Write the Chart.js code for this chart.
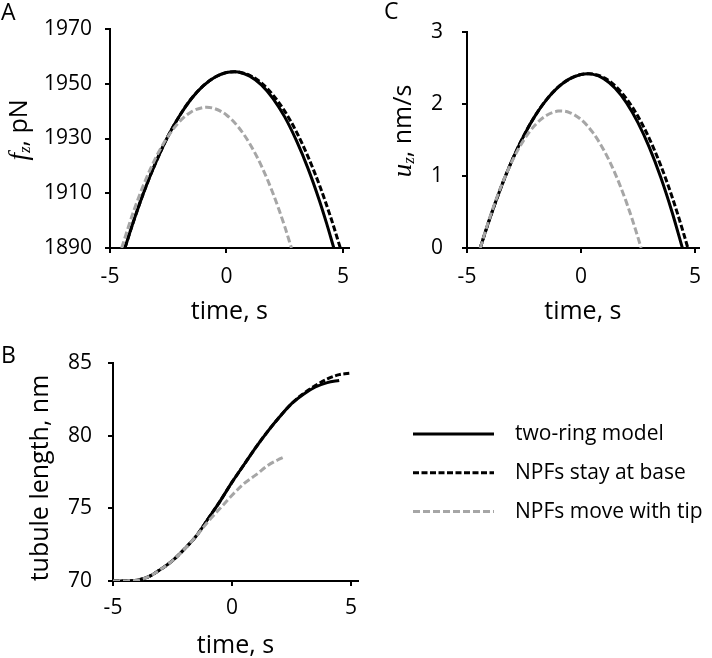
<!DOCTYPE html>
<html>
<head>
<meta charset="utf-8">
<script src="https://cdn.jsdelivr.net/npm/chart.js@4.4.1/dist/chart.umd.min.js"></script>
<style>
  body { margin: 0; background: #fff; }
  #fig { position: relative; width: 712px; height: 658px; overflow: hidden; font-family: "Open Sans", sans-serif; }
  #fig canvas { position: absolute; }
  .tag { position: absolute; font-size: 23px; line-height: 23px; color: #000; }
</style>
</head>
<body>
<div id="fig">
  <canvas id="chartA" width="360" height="330" style="left:0;top:0"></canvas>
  <canvas id="chartC" width="352" height="330" style="left:360px;top:0"></canvas>
  <canvas id="chartB" width="712" height="332" style="left:0;top:326px"></canvas>
  <div class="tag" style="left:1px;top:0">A</div>
  <div class="tag" style="left:384px;top:-1px">C</div>
  <div class="tag" style="left:1px;top:343px">B</div>
</div>
<script>
const FONT = '"Open Sans", sans-serif';
const MATH = '"Liberation Serif", serif';

const seriesNames = ['two-ring model', 'NPFs stay at base', 'NPFs move with tip'];
const xTicks = [-5, 0, 5];

// A: axial force f_z (pN) vs time (s)
const tA_ring = [-4.36, -4, -3.5, -3, -2.5, -2, -1.5, -1, -0.5, 0, 0.33, 0.5, 1, 1.5, 2, 2.5, 3, 3.5, 4, 4.3, 4.61];
const fA_ring = [1890, 1899.5, 1911.5, 1921.9, 1931.0, 1938.5, 1944.6, 1949.2, 1952.4, 1954.1, 1954.4, 1954.3, 1952.8, 1949.6, 1944.6, 1937.9, 1929.3, 1919.1, 1907.1, 1899.0, 1890];
const tA_base = [-4.36, -4, -3.5, -3, -2.5, -2, -1.5, -1, -0.5, 0, 0.35, 0.5, 1, 1.5, 2, 2.5, 3, 3.5, 4, 4.5, 4.89];
const fA_base = [1890, 1899.5, 1911.5, 1921.9, 1931.0, 1938.5, 1944.6, 1949.2, 1952.4, 1954.1, 1954.4, 1954.3, 1953.1, 1950.3, 1945.9, 1940.0, 1932.5, 1923.4, 1912.8, 1900.6, 1890];
const tA_tip = [-4.5, -4, -3.5, -3, -2.5, -2, -1.5, -1, -0.85, -0.5, 0, 0.5, 1, 1.5, 2, 2.5, 2.79];
const fA_tip = [1890, 1903.1, 1914.3, 1923.6, 1930.9, 1936.3, 1939.8, 1941.3, 1941.4, 1940.9, 1938.6, 1934.3, 1928.1, 1920.0, 1909.9, 1897.9, 1890];
const yTicksA = [1890, 1910, 1930, 1950, 1970];

// C: tip velocity u_z (nm/s)
const tC_ring = [-4.42, -4, -3.5, -3, -2.5, -2, -1.5, -1, -0.5, 0, 0.31, 0.5, 1, 1.5, 2, 2.5, 3, 3.5, 4, 4.45];
const uC_ring = [0, 0.409, 0.847, 1.232, 1.562, 1.839, 2.061, 2.230, 2.344, 2.405, 2.415, 2.410, 2.348, 2.215, 2.013, 1.739, 1.395, 0.981, 0.496, 0];
const tC_base = [-4.42, -4, -3.5, -3, -2.5, -2, -1.5, -1, -0.5, 0, 0.36, 0.5, 1, 1.5, 2, 2.5, 3, 3.5, 4, 4.5, 4.69];
const uC_base = [0, 0.409, 0.847, 1.232, 1.562, 1.839, 2.061, 2.230, 2.344, 2.405, 2.415, 2.413, 2.362, 2.248, 2.069, 1.825, 1.517, 1.145, 0.708, 0.207, 0];
const tC_tip = [-4.42, -4, -3.5, -3, -2.5, -2, -1.5, -1, -0.875, -0.5, 0, 0.5, 1, 1.5, 2, 2.5, 2.64];
const uC_tip = [0, 0.423, 0.858, 1.217, 1.501, 1.709, 1.841, 1.898, 1.90, 1.878, 1.782, 1.609, 1.359, 1.032, 0.629, 0.148, 0];
const yTicksC = [0, 1, 2, 3];

// B: tubule length (nm)
const tB_ring = [-5, -4.5, -4, -3.5, -3, -2.5, -2, -1.5, -1, -0.5, 0, 0.5, 1, 1.5, 2, 2.5, 3, 3.5, 4, 4.5];
const LB_ring = [70, 70, 70.05, 70.3, 70.8, 71.4, 72.2, 73.1, 74.3, 75.5, 76.8, 78.0, 79.2, 80.3, 81.3, 82.2, 82.85, 83.35, 83.65, 83.8];
const tB_base = [-5, -4.5, -4, -3.5, -3, -2.5, -2, -1.5, -1, -0.5, 0, 0.5, 1, 1.5, 2, 2.5, 3, 3.5, 4, 4.5, 5];
const LB_base = [70, 70, 70.05, 70.3, 70.8, 71.4, 72.2, 73.1, 74.3, 75.5, 76.8, 78.0, 79.2, 80.3, 81.3, 82.2, 82.9, 83.45, 83.9, 84.2, 84.3];
const tB_tip = [-5, -4.5, -4, -3.5, -3, -2.5, -2, -1.5, -1, -0.5, 0, 0.5, 1, 1.5, 2, 2.2];
const LB_tip = [70, 70, 70.05, 70.3, 70.8, 71.4, 72.2, 73.1, 74.1, 75.0, 75.9, 76.7, 77.3, 77.95, 78.4, 78.55];
const yTicksB = [70, 75, 80, 85];

const lineStyles = [
  { borderColor: '#000', borderWidth: 3, borderDash: [] },
  { borderColor: '#000', borderWidth: 3, borderDash: [6, 2.5] },
  { borderColor: '#a6a6a6', borderWidth: 3, borderDash: [7, 3] }
];

// rotated y title with italic / subscript parts
function yTitlePlugin(cfg) {
  return {
    id: 'yTitle',
    afterDraw(chart) {
      const ctx = chart.ctx;
      const fontOf = p => (p.it ? 'italic ' : '') + (p.sub ? 17 : (p.it ? 27 : 25)) + 'px ' + (p.it ? MATH : FONT);
      ctx.save();
      ctx.translate(cfg.x, cfg.y);
      ctx.rotate(-Math.PI / 2);
      ctx.fillStyle = '#000';
      ctx.textBaseline = 'middle';
      ctx.textAlign = 'left';
      let total = 0;
      cfg.parts.forEach(p => { ctx.font = fontOf(p); total += ctx.measureText(p.text).width; });
      let x = -total / 2;
      cfg.parts.forEach(p => {
        ctx.font = fontOf(p);
        ctx.fillText(p.text, x, p.sub ? 6 : 0);
        x += ctx.measureText(p.text).width;
      });
      ctx.restore();
    }
  };
}

// legend drawn beside panel B
function lineKeyPlugin(cfg) {
  return {
    id: 'lineKey',
    afterDraw(chart) {
      const ctx = chart.ctx;
      ctx.save();
      chart.data.datasets.forEach((ds, i) => {
        const y = cfg.y0 + i * cfg.dy;
        ctx.strokeStyle = ds.borderColor;
        ctx.lineWidth = ds.borderWidth;
        ctx.setLineDash(ds.borderDash);
        ctx.beginPath();
        ctx.moveTo(cfg.x, y);
        ctx.lineTo(cfg.x + cfg.len, y);
        ctx.stroke();
        ctx.setLineDash([]);
        ctx.fillStyle = '#000';
        ctx.font = '21px ' + FONT;
        ctx.textAlign = 'left';
        ctx.textBaseline = 'middle';
        ctx.fillText(ds.label, cfg.textX, y);
      });
      ctx.restore();
    }
  };
}

const axisGrid = { display: true, drawOnChartArea: false, drawTicks: true, tickLength: 5, color: '#000', lineWidth: 2 };
const axisBorder = { display: true, color: '#000', width: 2 };

function makePanel(id, series, xMax, yTicks, geo, yTitle, key) {
  const ctx = document.getElementById(id).getContext('2d');
  const plugins = [yTitlePlugin(yTitle)];
  if (key) plugins.push(lineKeyPlugin(key));
  return new Chart(ctx, {
    type: 'line',
    data: {
      datasets: series.map((s, i) => ({
        label: seriesNames[i],
        data: s.t.map((t, k) => ({ x: t, y: s.v[k] })),
        ...lineStyles[i],
        pointRadius: 0,
        fill: false,
        cubicInterpolationMode: 'monotone',
        order: 3 - i
      }))
    },
    options: {
      responsive: false,
      animation: false,
      layout: { padding: geo.pad },
      plugins: {
        legend: { display: false },
        tooltip: { enabled: false }
      },
      scales: {
        x: {
          type: 'linear', min: -5, max: xMax,
          afterBuildTicks: s => { s.ticks = xTicks.map(v => ({ value: v })); },
          afterFit: s => { s.height = geo.xh; },
          grid: axisGrid, border: axisBorder,
          ticks: { font: { family: FONT, size: 21 }, color: '#000', padding: geo.xpad, maxRotation: 0, callback: v => String(v) },
          title: { display: true, text: 'time, s', color: '#000', font: { family: FONT, size: 25, lineHeight: 1 }, padding: { top: 0, bottom: geo.tpad } }
        },
        y: {
          type: 'linear', min: yTicks[0], max: yTicks[yTicks.length - 1],
          afterBuildTicks: s => { s.ticks = yTicks.map(v => ({ value: v })); },
          afterFit: s => { s.width = geo.yw; },
          grid: axisGrid, border: axisBorder,
          ticks: { font: { family: FONT, size: 21 }, color: '#000', padding: geo.ypad, callback: v => String(v) }
        }
      }
    },
    plugins: plugins
  });
}

makePanel('chartA',
  [{ t: tA_ring, v: fA_ring }, { t: tA_base, v: fA_base }, { t: tA_tip, v: fA_tip }],
  5.25, yTicksA,
  { pad: { left: 0, top: 29, right: 3.5, bottom: 0 }, yw: 110, xh: 82, xpad: 11, tpad: 6, ypad: 13 },
  { x: 20, y: 130, parts: [{ text: 'f', it: true }, { text: 'z', it: true, sub: true }, { text: ', pN' }] });

makePanel('chartC',
  [{ t: tC_ring, v: uC_ring }, { t: tC_base, v: uC_base }, { t: tC_tip, v: uC_tip }],
  5.17, yTicksC,
  { pad: { left: 0, top: 29, right: 5, bottom: 0 }, yw: 107, xh: 82, xpad: 11, tpad: 6, ypad: 19 },
  { x: 44, y: 131, parts: [{ text: 'u', it: true }, { text: 'z', it: true, sub: true }, { text: ', nm/s' }] });

makePanel('chartB',
  [{ t: tB_ring, v: LB_ring }, { t: tB_base, v: LB_base }, { t: tB_tip, v: LB_tip }],
  5.29, yTicksB,
  { pad: { left: 0, top: 37, right: 354, bottom: 0 }, yw: 113, xh: 77, xpad: 9, tpad: 0, ypad: 16 },
  { x: 41, y: 152, parts: [{ text: 'tubule length, nm' }] },
  { x: 413, len: 81, textX: 515, y0: 108, dy: 38.8 });
</script>
</body>
</html>
